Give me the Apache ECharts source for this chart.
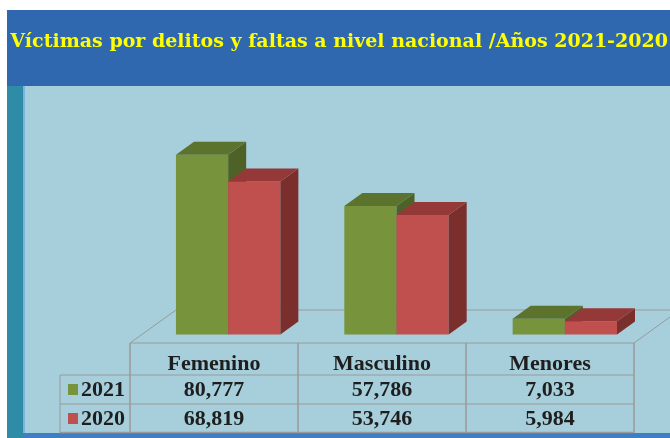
<!DOCTYPE html>
<html>
<head>
<meta charset="utf-8">
<title>Víctimas por delitos y faltas</title>
<script src="https://cdn.jsdelivr.net/npm/echarts@6/dist/echarts.min.js"></script>
<style>
  html, body { margin: 0; padding: 0; background: #fff; }
  #main { width: 670px; height: 438px; }
</style>
</head>
<body>
<div id="main"></div>
<script>
'use strict';
// datos de la grafica
var categories = ['Femenino', 'Masculino', 'Menores'];
var years = ['2021', '2020'];
var values2021 = [80777, 57786, 7033];
var values2020 = [68819, 53746, 5984];

(function() {
    var myChart = echarts.init(document.getElementById('main'));

    // profundidad del efecto 3D
    var DX = 18, DY = 13;

    function makeRender(col, colors) {
        return function(params, api) {
            var idx = api.value(0);
            var base = api.coord([idx, 0]);
            var top = api.coord([idx, api.value(1)]);
            var bw = api.size([1, 0])[0] * 0.31;
            var x = col === 0 ? base[0] - bw : base[0];
            var yT = top[1], yB = base[1];
            return {
                type: 'group',
                children: [
                    {
                        type: 'rect',
                        shape: { x: x, y: yT, width: bw, height: yB - yT },
                        style: { fill: colors[0] }
                    },
                    {
                        type: 'polygon',
                        shape: { points: [[x + bw, yT], [x + bw + DX, yT - DY], [x + bw + DX, yB - DY], [x + bw, yB]] },
                        style: { fill: colors[2] }
                    },
                    {
                        type: 'polygon',
                        shape: { points: [[x, yT], [x + DX, yT - DY], [x + bw + DX, yT - DY], [x + bw, yT]] },
                        style: { fill: colors[1] }
                    }
                ]
            };
        };
    }

    var fmt = function(v) { return v.toLocaleString('en-US'); };
    var colCenters = [214, 382, 550];
    var lineColor = '#9a9a9a';
    var textFont = 'bold 22px "Liberation Serif", serif';

    var graphics = [
        // fondos
        { type: 'rect', z: -10, shape: { x: 7, y: 10, width: 663, height: 428 }, style: { fill: '#2E8CA6' } },
        { type: 'rect', z: -10, shape: { x: 7, y: 10, width: 663, height: 76 }, style: { fill: '#3068B0' } },
        { type: 'rect', z: -10, shape: { x: 23, y: 86, width: 647, height: 352 }, style: { fill: '#7FB3DE' } },
        { type: 'rect', z: -10, shape: { x: 25, y: 86, width: 645, height: 347 }, style: { fill: '#A6CEDB' } },
        { type: 'rect', z: -10, shape: { x: 23, y: 433, width: 647, height: 5 }, style: { fill: '#3E7EC4' } },
        // titulo
        {
            type: 'text', z: 5, x: 339, y: 42,
            style: {
                text: 'Víctimas por delitos y faltas a nivel nacional /Años 2021-2020',
                font: 'bold 19px "DejaVu Serif", serif',
                fill: '#FFFF00', align: 'center', verticalAlign: 'middle'
            }
        },
        // piso
        { type: 'polyline', z: 0, shape: { points: [[130, 343], [176, 310], [670, 310]] }, style: { stroke: lineColor, lineWidth: 1, fill: null } },
        { type: 'line', z: 0, shape: { x1: 634, y1: 343, x2: 670, y2: 317 }, style: { stroke: lineColor, lineWidth: 1 } },
        // tabla
        { type: 'line', z: 0, shape: { x1: 130, y1: 343, x2: 634, y2: 343 }, style: { stroke: lineColor, lineWidth: 1 } },
        { type: 'line', z: 0, shape: { x1: 60, y1: 375, x2: 634, y2: 375 }, style: { stroke: lineColor, lineWidth: 1 } },
        { type: 'line', z: 0, shape: { x1: 60, y1: 404, x2: 634, y2: 404 }, style: { stroke: lineColor, lineWidth: 1 } },
        { type: 'line', z: 0, shape: { x1: 60, y1: 432.5, x2: 634, y2: 432.5 }, style: { stroke: lineColor, lineWidth: 1.5 } },
        { type: 'line', z: 0, shape: { x1: 60, y1: 375, x2: 60, y2: 433 }, style: { stroke: lineColor, lineWidth: 1 } }
    ];
    [130, 298, 466, 634].forEach(function(x) {
        graphics.push({ type: 'line', z: 0, shape: { x1: x, y1: 343, x2: x, y2: 433 }, style: { stroke: lineColor, lineWidth: 1.5 } });
    });
    categories.forEach(function(c, i) {
        graphics.push({ type: 'text', z: 5, x: colCenters[i], y: 364, style: { text: c, font: textFont, fill: '#1e1e1e', align: 'center', verticalAlign: 'middle' } });
        graphics.push({ type: 'text', z: 5, x: colCenters[i], y: 390, style: { text: fmt(values2021[i]), font: textFont, fill: '#1e1e1e', align: 'center', verticalAlign: 'middle' } });
        graphics.push({ type: 'text', z: 5, x: colCenters[i], y: 419, style: { text: fmt(values2020[i]), font: textFont, fill: '#1e1e1e', align: 'center', verticalAlign: 'middle' } });
    });
    var legendColors = ['#77933C', '#C0504D'];
    years.forEach(function(y, i) {
        var cy = i === 0 ? 390 : 419;
        graphics.push({ type: 'rect', z: 5, shape: { x: 68, y: cy - 6, width: 10, height: 11 }, style: { fill: legendColors[i] } });
        graphics.push({ type: 'text', z: 5, x: 81, y: cy, style: { text: y, font: textFont, fill: '#1e1e1e', align: 'left', verticalAlign: 'middle' } });
    });

    var option = {
        animation: false,
        grid: { left: 144, right: 21, top: 112, bottom: 103.5 },
        xAxis: { type: 'category', data: categories, show: false },
        yAxis: { type: 'value', min: 0, max: 100000, show: false },
        graphic: graphics,
        series: [
            {
                name: years[0], type: 'custom', z: 2,
                renderItem: makeRender(0, ['#77933C', '#5C732E', '#4E6227']),
                data: values2021.map(function(v, i) { return [i, v]; })
            },
            {
                name: years[1], type: 'custom', z: 3,
                renderItem: makeRender(1, ['#C0504D', '#943937', '#7B2F2D']),
                data: values2020.map(function(v, i) { return [i, v]; })
            }
        ]
    };

    myChart.setOption(option);
})();
</script>
</body>
</html>
